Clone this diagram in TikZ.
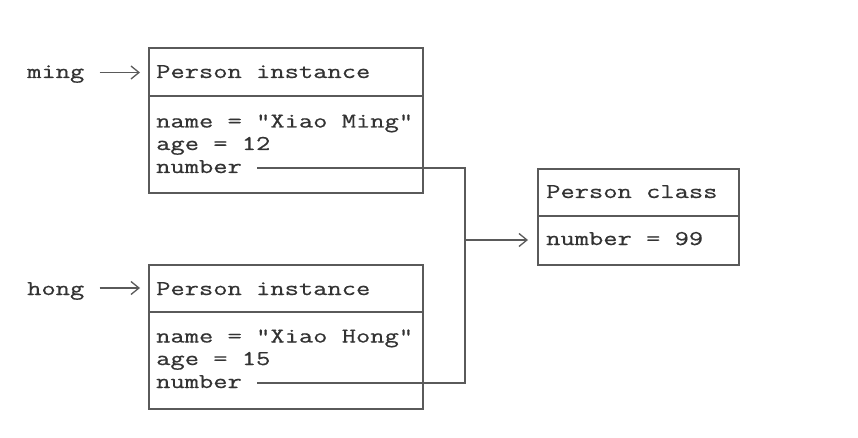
\documentclass[tikz,border=0pt]{standalone}
\usepackage{fontspec}
\setmonofont[FakeStretch=1.32,FakeBold=0.6]{Latin Modern Mono}
\usetikzlibrary{arrows.meta}
\definecolor{edge}{HTML}{5A5A5A}
\definecolor{ink}{HTML}{333333}
\tikzset{
  box/.style={draw=edge, line width=1.6pt, inner sep=0pt},
  sep/.style={draw=edge, line width=1.6pt},
  txt/.style={anchor=base west, inner sep=0pt, text=ink, font=\ttfamily\fontsize{21}{23}\selectfont},
  conn/.style={draw=edge, line width=1.3pt},
  ptr/.style={conn, -{Straight Barb[length=8pt,width=13pt,line width=1.3pt]}},
}
\begin{document}
\begin{tikzpicture}[x=1pt,y=-1pt]
\useasboundingbox (0,0) rectangle (858,438);
% boxes
\node[box, minimum width=274pt, minimum height=145pt, anchor=north west] (b1) at (148,47) {};
\node[box, minimum width=274pt, minimum height=144pt, anchor=north west] (b2) at (148,264) {};
\node[box, minimum width=201pt, minimum height=96pt, anchor=north west] (bc) at (537,168) {};
\draw[sep] (148,96) -- (422,96);
\draw[sep] (148,312) -- (422,312);
\draw[sep] (537,216) -- (738,216);
% texts
\node[txt] (ming) at (27,78) {ming};
\node[txt] (t1) at (156,78) {Person instance};
\node[txt] (n1) at (156,127.5) {name = "Xiao Ming"};
\node[txt] (a1) at (156,150) {age = 12};
\node[txt] (u1) at (156,173) {number};
\node[txt] (hong) at (27,295) {hong};
\node[txt] (t2) at (156,295) {Person instance};
\node[txt] (n2) at (156,342.5) {name = "Xiao Hong"};
\node[txt] (a2) at (156,365) {age = 15};
\node[txt] (u2) at (156,388) {number};
\node[txt] (tc) at (546,198) {Person class};
\node[txt] (uc) at (546,245) {number = 99};
% connectors
\coordinate (j1) at (465,168);
\coordinate (j2) at (465,383);
\coordinate (jm) at (465,240);
\draw[ptr] ([xshift=15pt]ming.east |- 0,72.5) -- ([xshift=-8pt]b1.west |- 0,72.5);
\draw[ptr] ([xshift=15pt]hong.east |- 0,288) -- ([xshift=-8pt]b2.west |- 0,288);
\draw[conn] ([xshift=15pt]u1.east |- j1) -- (j1) -- (j2) -- ([xshift=15pt]u2.east |- j2);
\draw[ptr] (jm) -- ([xshift=-9pt]bc.west |- jm);
\end{tikzpicture}
\end{document}
